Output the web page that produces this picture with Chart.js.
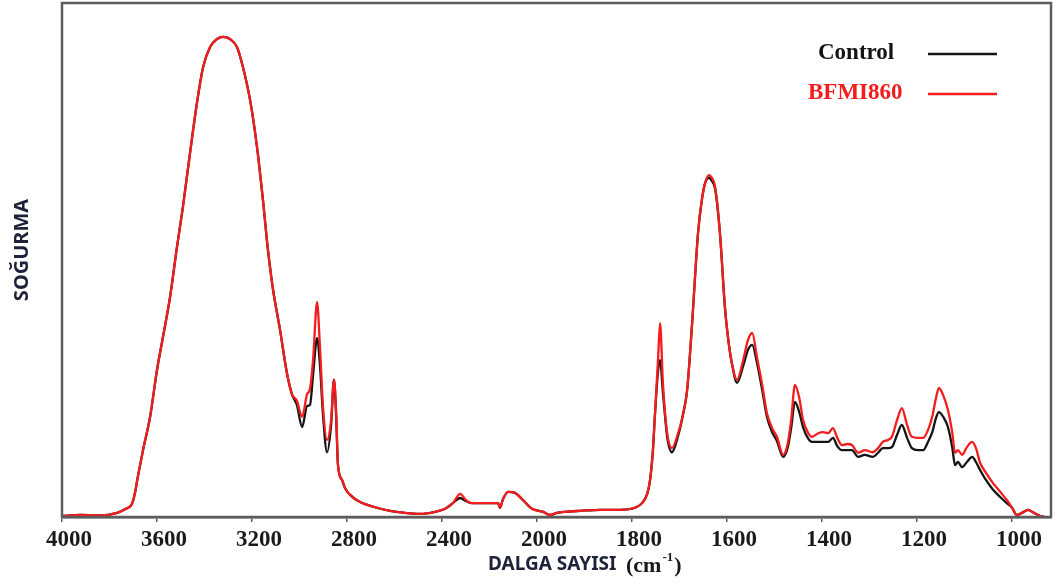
<!DOCTYPE html>
<html>
<head>
<meta charset="utf-8">
<title>FTIR</title>
<script src="https://cdn.jsdelivr.net/npm/chart.js@4.4.1/dist/chart.umd.min.js"></script>
<style>
  html, body { margin: 0; padding: 0; background: #ffffff; }
  #wrap { width: 1060px; height: 585px; position: relative; }
</style>
</head>
<body>
<div id="wrap"><canvas id="c" width="1060" height="585"></canvas></div>
<script>
// Wavenumbers (cm-1), high to low as plotted left to right
const wavenumbers = [
  4000, 3924, 3840, 3768, 3735, 3705, 3693, 3680, 3659, 3629,
  3600, 3575, 3545, 3516, 3491, 3461, 3432, 3406, 3377, 3347,
  3322, 3293, 3263, 3238, 3208, 3179, 3154, 3133, 3112, 3082,
  3053, 3032, 3011, 2989, 2968, 2956, 2943, 2926, 2914, 2901,
  2884, 2867, 2855, 2846, 2838, 2821, 2808, 2787, 2745, 2682,
  2619, 2556, 2493, 2429, 2387, 2354, 2324, 2299, 2274, 2219,
  2164, 2156, 2143, 2122, 2093, 2059, 2021, 1987, 1973, 1958,
  1941, 1909, 1867, 1825, 1794, 1779, 1768, 1762, 1756, 1752,
  1745, 1741, 1735, 1726, 1716, 1703, 1693, 1684, 1674, 1661,
  1653, 1646, 1638, 1632, 1625, 1615, 1604, 1596, 1590, 1579,
  1566, 1556, 1547, 1537, 1526, 1516, 1505, 1495, 1482, 1472,
  1465, 1457, 1448, 1440, 1430, 1421, 1408, 1398, 1387, 1377,
  1368, 1358, 1347, 1337, 1324, 1310, 1293, 1282, 1272, 1261,
  1253, 1242, 1232, 1221, 1211, 1198, 1187, 1177, 1168, 1160,
  1154, 1145, 1135, 1126, 1120, 1114, 1105, 1095, 1084, 1076,
  1067, 1055, 1040, 1025, 1011, 1000, 990, 979, 966, 954,
  941, 931
];

// Absorbance, arbitrary units (0 = baseline, 100 = top of frame)
const control = [
  0.2, 0.4, 0.3, 0.8, 1.5, 2.6, 4.6, 8.0, 13.0, 19.5,
  28.6, 35.0, 42.8, 52.5, 60.3, 70.8, 80.5, 87.5, 91.4, 93.0,
  93.4, 93.0, 91.4, 87.5, 81.1, 72.0, 61.7, 52.0, 44.4, 36.4,
  28.0, 23.9, 21.8, 17.5, 21.6, 21.8, 27.6, 34.8, 29.6, 19.8,
  12.6, 17.9, 26.7, 19.8, 10.1, 7.2, 5.6, 4.3, 2.9, 1.9,
  1.2, 0.8, 0.6, 1.0, 1.6, 2.7, 3.7, 3.1, 2.7, 2.7,
  2.7, 1.8, 3.5, 4.9, 4.7, 3.3, 1.6, 1.0, 0.4, 0.8,
  1.0, 1.2, 1.4, 1.4, 1.8, 2.7, 4.5, 7.2, 13.0, 19.5,
  28.6, 30.5, 24.3, 15.6, 12.6, 15.8, 19.8, 24.7, 37.0, 55.3,
  61.7, 65.0, 66.0, 65.4, 63.8, 55.3, 40.3, 33.5, 30.0, 26.1,
  29.4, 32.5, 33.5, 30.0, 24.7, 19.5, 16.5, 14.8, 11.7, 13.6,
  17.3, 22.4, 20.4, 17.5, 15.4, 14.6, 14.6, 14.6, 14.6, 15.4,
  13.8, 13.0, 13.0, 13.0, 11.7, 12.1, 11.7, 12.5, 13.4, 13.4,
  13.6, 16.0, 17.9, 15.4, 13.4, 13.0, 13.0, 14.6, 16.5, 19.3,
  20.4, 19.5, 17.5, 13.6, 10.1, 10.7, 9.7, 10.7, 11.7, 10.7,
  9.1, 7.2, 5.3, 3.9, 2.7, 1.8, 0.4, 0.8, 1.4, 0.8,
  0.2, 0.0
];

const bfmi860 = [
  0.2, 0.4, 0.3, 0.8, 1.5, 2.6, 4.6, 8.0, 13.0, 19.5,
  28.6, 35.0, 42.8, 52.5, 60.3, 70.8, 80.5, 87.5, 91.4, 93.0,
  93.4, 93.0, 91.4, 87.5, 81.1, 72.0, 61.7, 52.0, 44.4, 36.4,
  28.0, 23.9, 22.6, 19.5, 23.9, 24.9, 30.5, 41.8, 33.1, 21.4,
  15.0, 18.9, 26.7, 20.8, 10.1, 7.2, 5.6, 4.3, 2.9, 1.9,
  1.2, 0.8, 0.6, 1.0, 1.6, 2.7, 4.5, 3.3, 2.7, 2.7,
  2.7, 1.8, 3.5, 4.9, 4.7, 3.3, 1.6, 1.0, 0.4, 0.8,
  1.0, 1.2, 1.4, 1.4, 1.8, 2.7, 4.5, 7.2, 13.0, 19.5,
  31.1, 37.7, 26.1, 16.3, 13.4, 16.3, 19.8, 24.7, 37.0, 55.3,
  61.7, 65.0, 66.5, 66.0, 64.2, 55.3, 40.3, 33.5, 30.0, 26.7,
  30.5, 34.4, 35.8, 31.1, 25.7, 20.2, 17.3, 15.6, 12.1, 14.4,
  18.9, 25.7, 23.2, 18.9, 16.5, 15.6, 16.3, 16.5, 16.3, 17.3,
  15.4, 14.0, 14.2, 14.0, 12.5, 13.0, 12.6, 13.4, 14.6, 15.0,
  15.6, 18.9, 21.2, 17.9, 15.6, 15.4, 15.4, 16.9, 19.5, 23.2,
  25.1, 23.7, 20.8, 16.5, 12.5, 13.0, 12.1, 13.6, 14.6, 13.4,
  10.5, 8.6, 6.6, 4.9, 3.3, 1.8, 0.4, 0.8, 1.4, 0.8,
  0.2, 0.0
];

const seriesNames = ['Control', 'BFMI860'];
const tickValues = [4000, 3600, 3200, 2800, 2400, 2000, 1800, 1600, 1400, 1200, 1000];
const xTitle = 'DALGA SAYISI';
const xUnit = ['(cm', '-1', ')'];
const yTitle = 'SOĞURMA';

// Split wavenumber axis: 400 cm-1 per division above 2000, 200 cm-1 per division below
const AXIS_HIGH = 4000, AXIS_BREAK = 2000, AXIS_LOW = 918;
function divisionsFromLeft(w) {
  if (w >= AXIS_BREAK) return (AXIS_HIGH - w) / 400;
  return (AXIS_HIGH - AXIS_BREAK) / 400 + (AXIS_BREAK - w) / 200;
}
const TOTAL_DIV = divisionsFromLeft(AXIS_LOW);
function wavenumberFromDivisions(d) {
  const highDiv = (AXIS_HIGH - AXIS_BREAK) / 400;
  if (d <= highDiv) return AXIS_HIGH - d * 400;
  return AXIS_BREAK - (d - highDiv) * 200;
}

class SplitWavenumberScale extends Chart.LinearScale {
  buildTicks() {
    return tickValues.map(v => ({ value: v }));
  }
  getPixelForValue(value) {
    return this.getPixelForDecimal(divisionsFromLeft(value) / TOTAL_DIV);
  }
  getValueForPixel(pixel) {
    return wavenumberFromDivisions(this.getDecimalForPixel(pixel) * TOTAL_DIV);
  }
}
SplitWavenumberScale.id = 'splitWavenumber';
SplitWavenumberScale.defaults = Chart.LinearScale.defaults;
Chart.register(SplitWavenumberScale);

const FRAME = '#5c5c5c';
const COLORS = ['#141414', '#f41c1c'];

// Frame, axis titles and the in-plot key
const decorations = {
  id: 'decorations',
  afterDraw(chart) {
    const { ctx, chartArea: a } = chart;
    ctx.save();
    ctx.strokeStyle = FRAME;
    ctx.lineWidth = 2.5;
    ctx.strokeRect(a.left, a.top, a.right - a.left, a.bottom - a.top);

    // y title
    ctx.save();
    ctx.translate(22, 250);
    ctx.rotate(-Math.PI / 2);
    ctx.fillStyle = '#1d2238';
    ctx.font = 'bold 20px "Noto Sans"';
    ctx.textAlign = 'center';
    ctx.textBaseline = 'middle';
    ctx.fillText(yTitle, 0, 0);
    ctx.restore();

    // x title
    ctx.fillStyle = '#1d2238';
    ctx.font = 'bold 19px "Noto Sans"';
    ctx.textAlign = 'left';
    ctx.textBaseline = 'middle';
    ctx.fillText(xTitle, 488, 565);
    ctx.fillStyle = '#1a1a1a';
    ctx.font = 'bold 22px "Liberation Serif"';
    let ux = 626;
    ctx.fillText(xUnit[0], ux, 566);
    ux += ctx.measureText(xUnit[0]).width + 1;
    ctx.font = 'bold 13px "Liberation Serif"';
    ctx.fillText(xUnit[1], ux, 558);
    ux += ctx.measureText(xUnit[1]).width + 1;
    ctx.font = 'bold 22px "Liberation Serif"';
    ctx.fillText(xUnit[2], ux, 566);

    // key
    const keyRows = [
      { x: 818, y: 53 },
      { x: 808, y: 93 }
    ];
    chart.data.datasets.forEach((ds, i) => {
      const r = keyRows[i];
      ctx.font = 'bold 23px "Liberation Serif"';
      ctx.fillStyle = ds.borderColor;
      ctx.textAlign = 'left';
      ctx.textBaseline = 'middle';
      ctx.fillText(ds.label, r.x, r.y);
      ctx.strokeStyle = ds.borderColor;
      ctx.lineWidth = 2.5;
      ctx.beginPath();
      ctx.moveTo(928, r.y + 1);
      ctx.lineTo(997, r.y + 1);
      ctx.stroke();
    });
    ctx.restore();
  }
};

const makePoints = values => wavenumbers.map((w, i) => ({ x: w, y: values[i] }));

new Chart(document.getElementById('c'), {
  type: 'line',
  data: {
    datasets: [
      {
        label: seriesNames[0],
        data: makePoints(control),
        borderColor: COLORS[0],
        borderWidth: 2.3,
        pointRadius: 0,
        cubicInterpolationMode: 'monotone',
        order: 2
      },
      {
        label: seriesNames[1],
        data: makePoints(bfmi860),
        borderColor: COLORS[1],
        borderWidth: 2.3,
        pointRadius: 0,
        cubicInterpolationMode: 'monotone',
        order: 1
      }
    ]
  },
  options: {
    responsive: false,
    animation: false,
    devicePixelRatio: 1,
    layout: { padding: { left: 62, top: 3, right: 9, bottom: 0 } },
    plugins: {
      legend: { display: false },
      tooltip: { enabled: false }
    },
    scales: {
      x: {
        type: 'splitWavenumber',
        min: AXIS_LOW,
        max: AXIS_HIGH,
        afterFit(scale) { scale.height = 68; },
        border: { display: true, color: FRAME, width: 2.5 },
        grid: {
          display: true,
          drawOnChartArea: false,
          drawTicks: true,
          tickLength: 5,
          color: FRAME,
          lineWidth: 1.5
        },
        ticks: {
          autoSkip: false,
          maxRotation: 0,
          padding: 4,
          labelOffset: 7,
          color: '#1a1a1a',
          font: { family: '"Liberation Serif"', size: 23, weight: 'bold' },
          callback: v => String(v)
        }
      },
      y: {
        display: false,
        min: 0,
        max: 100
      }
    }
  },
  plugins: [decorations]
});
</script>
</body>
</html>
